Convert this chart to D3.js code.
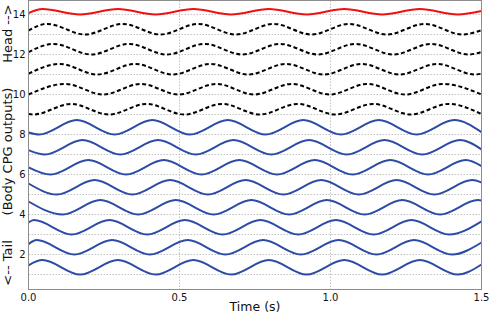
<!DOCTYPE html>
<html>
<head>
<meta charset="utf-8">
<script src="https://cdn.jsdelivr.net/npm/d3@7"></script>
<style>
  html, body { margin: 0; padding: 0; background: #fff; }
  svg { display: block; font-family: "DejaVu Sans", sans-serif; }
</style>
</head>
<body>
<svg id="chart" width="490" height="313"></svg>
<script>
// ---- data ----
const timeTicks = [0.0, 0.5, 1.0, 1.5];
const timeTickLabels = ["0.0", "0.5", "1.0", "1.5"];
const levelTicks = [2, 4, 6, 8, 10, 12, 14];
const gridLevels = [1, 2, 3, 4, 5, 6, 7, 8, 9, 10, 11, 12, 13, 14];

// one entry per CPG output, tail (1) to head (14)
const curveIds    = [1, 2, 3, 4, 5, 6, 7, 8, 9, 10, 11, 12, 13, 14];
const curveKind   = ["body","body","body","body","body","body","body","body",
                     "neck","neck","neck","neck","neck","head"];
const lowValues   = [1, 2, 3, 4, 5, 6, 7, 8, 9, 10, 11, 12, 13, 14];
const highValues  = [1.72, 2.72, 3.72, 4.72, 5.72, 6.72, 7.72, 8.72,
                     9.53, 10.53, 11.53, 12.53, 13.53, 14.27];
const startValues = [1.46, 2.52, 3.6, 4.65, 5.55, 6.36, 7.22, 8.1,
                     9.02, 10.0, 11.04, 12.12, 13.2, 14.07];
const endValues   = [1.5, 2.6, 3.66, 4.7, 5.6, 6.42, 7.26, 8.12,
                     9.02, 10.0, 11.04, 12.13, 13.22, 14.17];
const peakTimes = [
  [0.046, 0.296, 0.546, 0.796, 1.046, 1.296],
  [0.027, 0.277, 0.527, 0.777, 1.027, 1.277],
  [0.018, 0.268, 0.518, 0.768, 1.018, 1.268],
  [0.238, 0.488, 0.738, 0.988, 1.238, 1.488],
  [0.219, 0.469, 0.719, 0.969, 1.219, 1.469],
  [0.198, 0.448, 0.698, 0.948, 1.198, 1.448],
  [0.179, 0.429, 0.679, 0.929, 1.179, 1.429],
  [0.160, 0.410, 0.660, 0.910, 1.160, 1.410],
  [0.141, 0.391, 0.641, 0.891, 1.141, 1.391],
  [0.122, 0.372, 0.622, 0.872, 1.122, 1.372],
  [0.103, 0.353, 0.603, 0.853, 1.103, 1.353],
  [0.083, 0.333, 0.583, 0.833, 1.083, 1.333],
  [0.062, 0.312, 0.562, 0.812, 1.062, 1.312],
  [0.046, 0.296, 0.546, 0.796, 1.046, 1.296]
];
const troughTimes = [
  [0.171, 0.421, 0.671, 0.921, 1.171, 1.421],
  [0.152, 0.402, 0.652, 0.902, 1.152, 1.402],
  [0.143, 0.393, 0.643, 0.893, 1.143, 1.393],
  [0.113, 0.363, 0.613, 0.863, 1.113, 1.363],
  [0.094, 0.344, 0.594, 0.844, 1.094, 1.344],
  [0.073, 0.323, 0.573, 0.823, 1.073, 1.323],
  [0.054, 0.304, 0.554, 0.804, 1.054, 1.304],
  [0.035, 0.285, 0.535, 0.785, 1.035, 1.285],
  [0.016, 0.266, 0.516, 0.766, 1.016, 1.266],
  [0.247, 0.497, 0.747, 0.997, 1.247],
  [0.228, 0.478, 0.728, 0.978, 1.228, 1.478],
  [0.208, 0.458, 0.708, 0.958, 1.208, 1.458],
  [0.187, 0.437, 0.687, 0.937, 1.187, 1.437],
  [0.171, 0.421, 0.671, 0.921, 1.171, 1.421]
];
const tMin = 0, tMax = 1.5;
const yMin = 0.25, yMax = 14.7;

// ---- drawing ----
(function () {
const svg = d3.select("#chart");
svg.append("rect").attr("width", 490).attr("height", 313).attr("fill", "#fff");

const pLeft = 28.5, pRight = 481.5, pTop = 0.5, pBottom = 289.5;
const x = d3.scaleLinear().domain([tMin, tMax]).range([pLeft, pRight]);
const y = d3.scaleLinear().domain([yMin, yMax]).range([pBottom, pTop]);

const styleOf = {
  body: { stroke: "#2c4ba6", width: 2, dash: null },
  neck: { stroke: "#000", width: 2, dash: "4,2.6" },
  head: { stroke: "#f01010", width: 2, dash: null }
};

svg.append("clipPath").attr("id", "clip")
  .append("rect").attr("x", pLeft).attr("y", pTop)
  .attr("width", pRight - pLeft).attr("height", pBottom - pTop);

// grid
const grid = svg.append("g").attr("stroke", "#b4b4b4").attr("stroke-width", 0.8)
  .attr("stroke-dasharray", "1.5,1.5");
grid.selectAll("line.h").data(gridLevels).join("line").attr("class", "h")
  .attr("x1", pLeft).attr("x2", pRight)
  .attr("y1", d => y(d)).attr("y2", d => y(d));
grid.selectAll("line.v").data(timeTicks.filter(t => t > tMin && t < tMax)).join("line")
  .attr("class", "v")
  .attr("x1", d => x(d)).attr("x2", d => x(d))
  .attr("y1", pTop).attr("y2", pBottom);

// curves
const line = d3.line().x(d => x(d[0])).y(d => y(d[1])).curve(d3.curveMonotoneX);
const curves = curveIds.map((id, i) => {
  const pts = [[tMin, startValues[i]]];
  peakTimes[i].forEach(t => pts.push([t, highValues[i]]));
  troughTimes[i].forEach(t => pts.push([t, lowValues[i]]));
  pts.push([tMax, endValues[i]]);
  pts.sort((a, b) => a[0] - b[0]);
  return { id, kind: curveKind[i], pts };
});
svg.append("g").attr("clip-path", "url(#clip)")
  .selectAll("path").data(curves).join("path")
  .attr("d", d => line(d.pts))
  .attr("fill", "none")
  .attr("stroke", d => styleOf[d.kind].stroke)
  .attr("stroke-width", d => styleOf[d.kind].width)
  .attr("stroke-dasharray", d => styleOf[d.kind].dash)
  .attr("stroke-linejoin", "round");

// frame
svg.append("rect").attr("x", pLeft).attr("y", pTop)
  .attr("width", pRight - pLeft).attr("height", pBottom - pTop)
  .attr("fill", "none").attr("stroke", "#8c8c8c").attr("stroke-width", 1);

// y tick labels
svg.append("g").selectAll("text").data(levelTicks).join("text")
  .attr("x", 25.5).attr("y", d => y(d))
  .attr("dy", "0.36em")
  .attr("text-anchor", "end")
  .attr("font-size", 10).attr("fill", "#111")
  .text(d => d);

// x tick labels
svg.append("g").selectAll("text").data(timeTicks).join("text")
  .attr("x", d => x(d)).attr("y", 300.5)
  .attr("text-anchor", "middle")
  .attr("font-size", 10).attr("fill", "#111")
  .text((d, i) => timeTickLabels[i]);

// axis titles
svg.append("text").attr("x", (pLeft + pRight) / 2).attr("y", 311)
  .attr("text-anchor", "middle").attr("font-size", 12.5).attr("fill", "#111")
  .text("Time (s)");

svg.append("text")
  .attr("transform", `translate(11.7,${(pTop + pBottom) / 2}) rotate(-90)`)
  .attr("text-anchor", "middle").attr("font-size", 13).attr("fill", "#111")
  .style("white-space", "pre")
  .text("<-- Tail      (Body CPG outputs)      Head -->");
})();
</script>
</body>
</html>
